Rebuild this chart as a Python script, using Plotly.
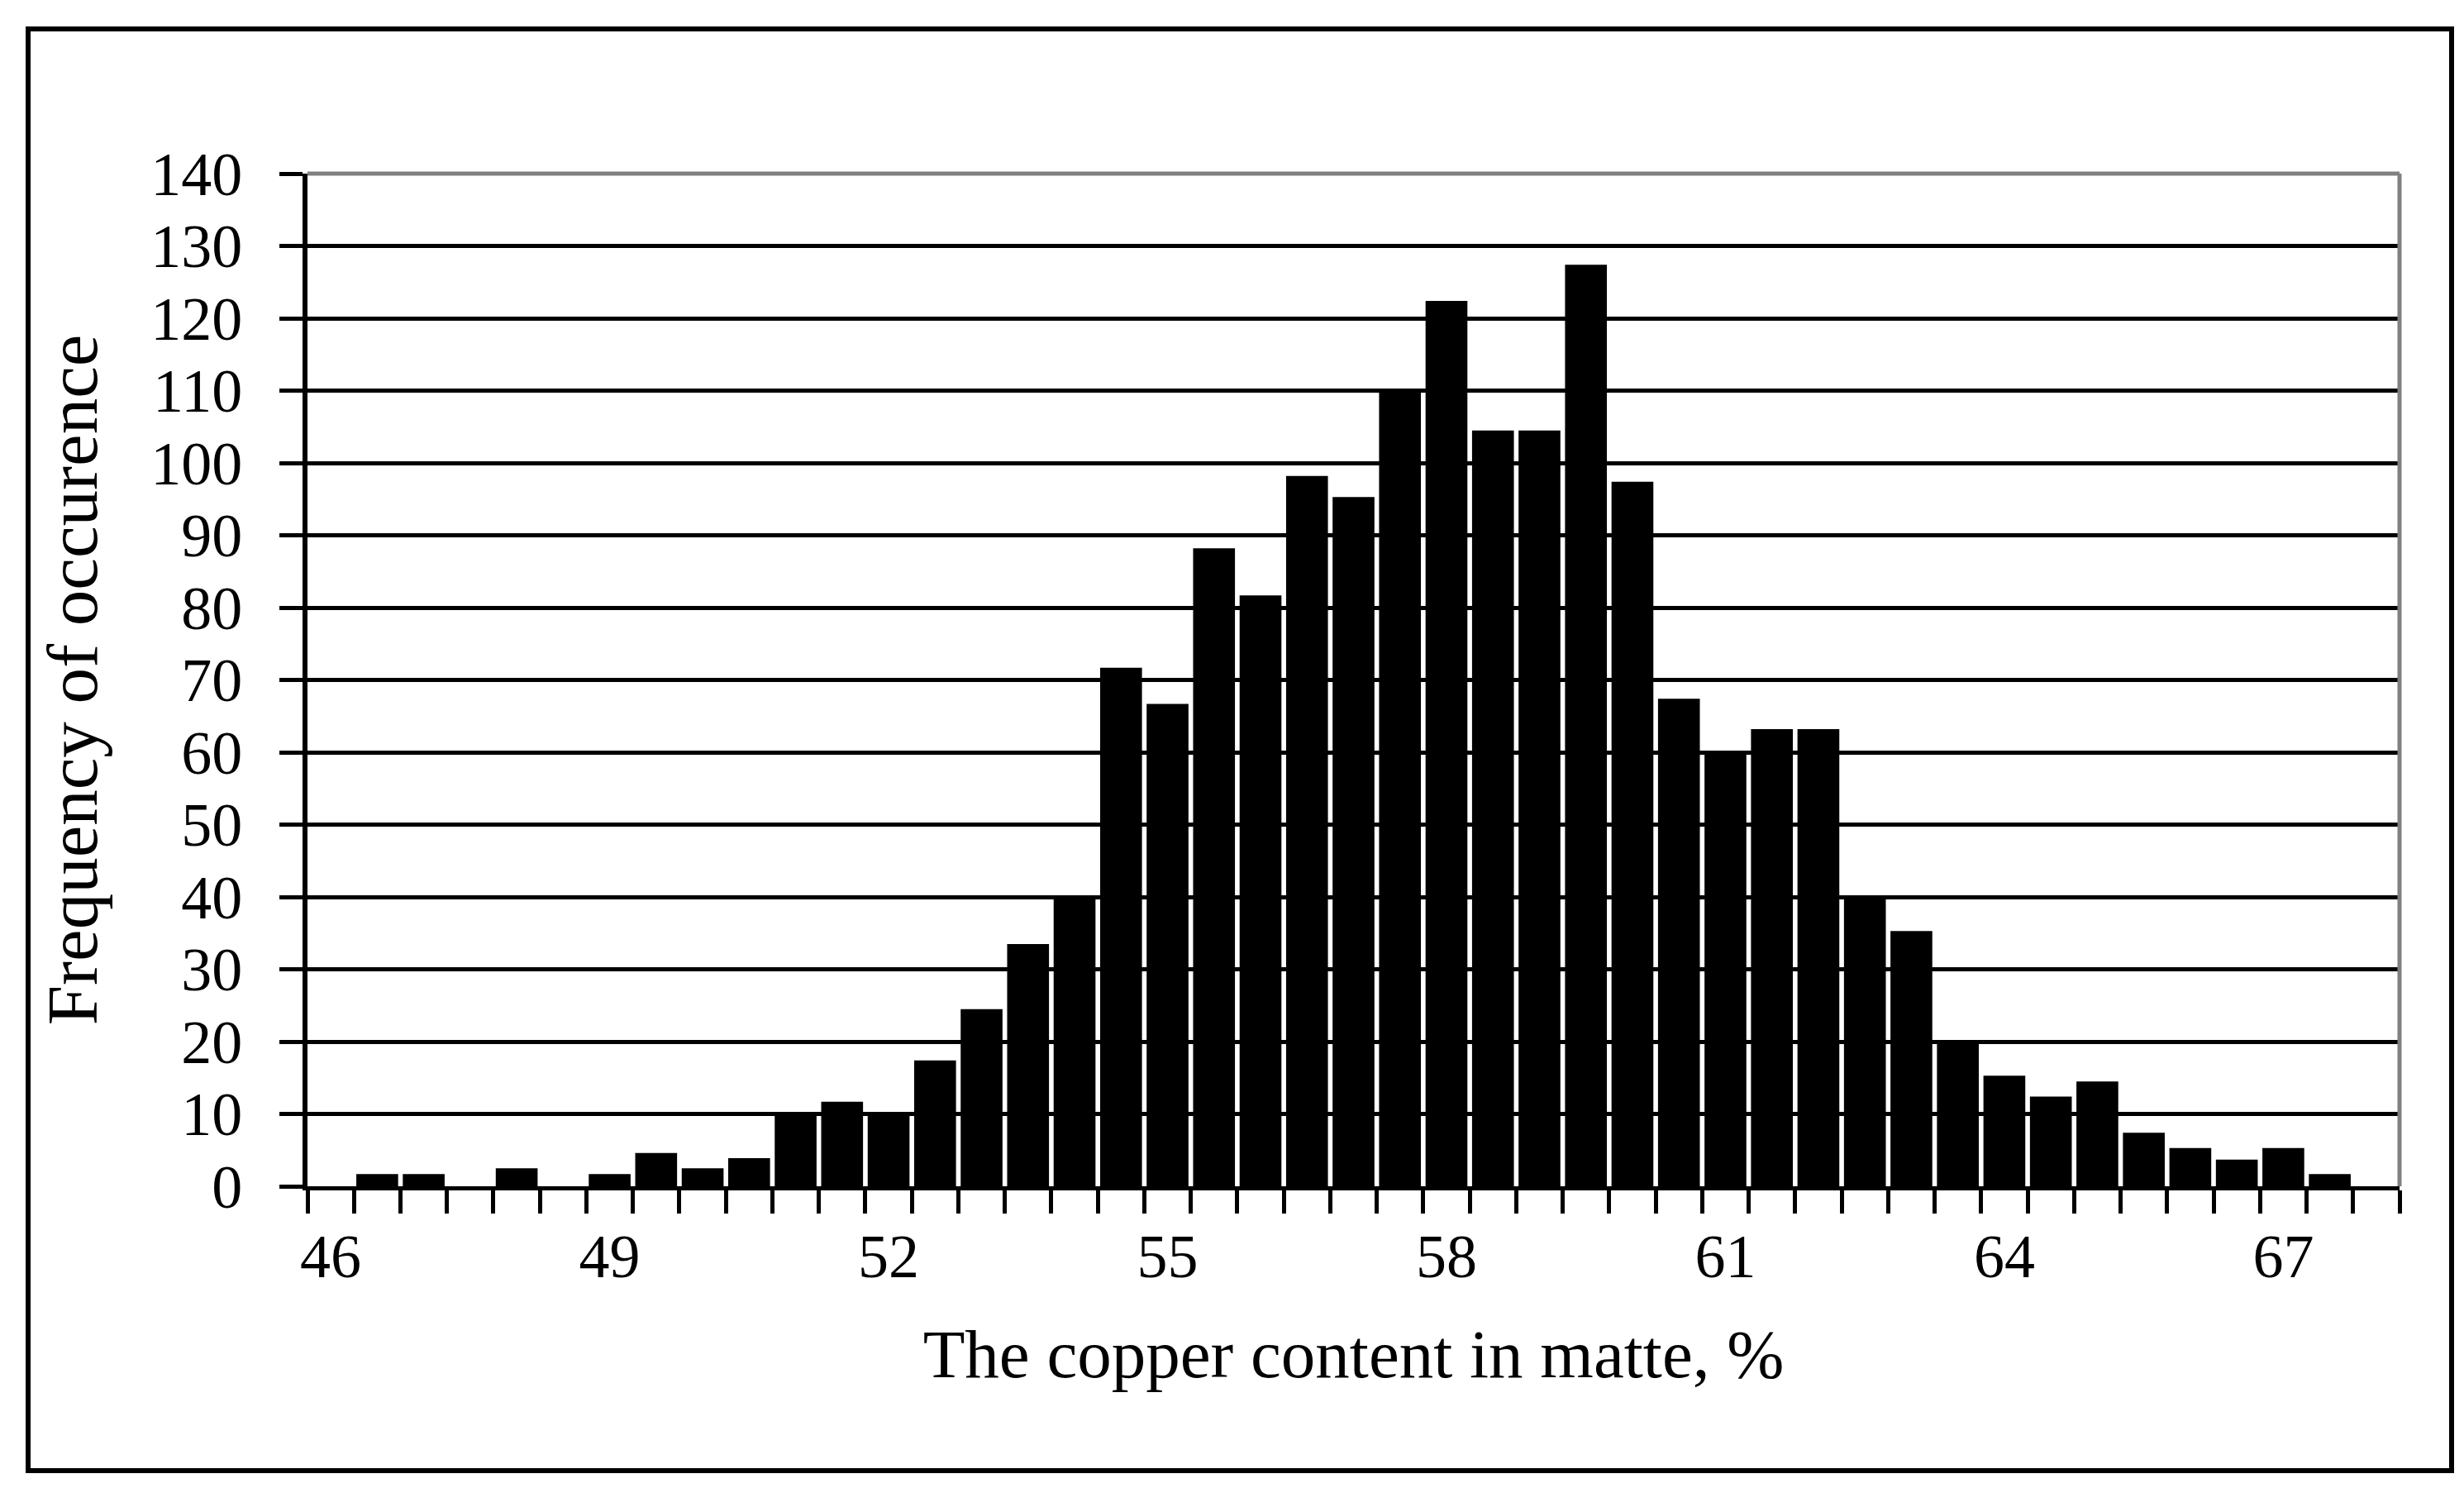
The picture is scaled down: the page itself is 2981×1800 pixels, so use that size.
import plotly.graph_objects as go

# copper content classes (%), one bar per 0.5 % step
cu_content = [46 + 0.5 * i for i in range(45)]  # 46.0 ... 68.0
frequency = [
    0, 1.7, 1.7, 0, 2.5, 0, 1.7, 4.6, 2.5, 3.9,
    10, 11.7, 10, 17.4, 24.5, 33.5, 40, 71.7, 66.7, 88.2,
    81.7, 98.2, 95.3, 110, 122.4, 104.5, 104.5, 127.4, 97.4, 67.4,
    60.2, 63.2, 63.2, 40, 35.3, 20, 15.3, 12.4, 14.5, 7.4,
    5.3, 3.7, 5.3, 1.7, 0,
]
x_ticks = [46, 49, 52, 55, 58, 61, 64, 67]
y_ticks = list(range(0, 141, 10))

W, H = 2981, 1800
L, R, T, B = 364, 86, 202, 373
FONT = "Liberation Serif, Times New Roman, serif"

fig = go.Figure(
    go.Bar(
        x=cu_content,
        y=frequency,
        marker=dict(color="black", line=dict(width=0)),
        width=0.45,
    )
)

fig.update_layout(
    width=W,
    height=H,
    margin=dict(l=L, r=R, t=T, b=B, autoexpand=False),
    paper_bgcolor="white",
    plot_bgcolor="white",
    showlegend=False,
    font=dict(family=FONT, color="black", size=72),
)

fig.update_xaxes(
    range=[45.75, 68.25],
    tickvals=x_ticks,
    ticktext=[str(v) for v in x_ticks],
    ticks="",
    ticklabelstandoff=16,
    tickfont=dict(size=74),
    showgrid=False,
    zeroline=False,
    showline=True,
    linecolor="black",
    linewidth=5,
    minor=dict(
        ticks="outside",
        tick0=45.75,
        dtick=0.5,
        ticklen=28,
        tickwidth=5,
        tickcolor="black",
        showgrid=False,
    ),
    title=dict(
        text="The copper content in matte, %",
        font=dict(size=83),
        standoff=50,
    ),
)

fig.update_yaxes(
    range=[0, 140],
    tickvals=y_ticks,
    ticks="outside",
    ticklen=28,
    tickwidth=5,
    tickcolor="black",
    ticklabelstandoff=30,
    tickfont=dict(size=74),
    showgrid=True,
    gridcolor="black",
    gridwidth=5,
    zeroline=False,
    showline=True,
    linecolor="black",
    linewidth=6,
    title=dict(
        text="Frequency of occurence",
        font=dict(size=87),
        standoff=38,
    ),
)

# grey top and right edges of the plot area
fig.add_shape(type="line", xref="x domain", yref="y domain",
              x0=0, x1=1, y0=1, y1=1, line=dict(color="#808080", width=5))
fig.add_shape(type="line", xref="x domain", yref="y domain",
              x0=1, x1=1, y0=0, y1=1, line=dict(color="#808080", width=5))

# black frame around the whole chart
pw, ph = W - L - R, H - T - B
fig.add_shape(
    type="rect", xref="paper", yref="paper",
    x0=(26 - L) / pw, x1=(2958 - L) / pw,
    y0=(H - B - 1771) / ph, y1=(H - B - 27) / ph,
    line=dict(color="black", width=6),
)

fig.write_html("out.html")
